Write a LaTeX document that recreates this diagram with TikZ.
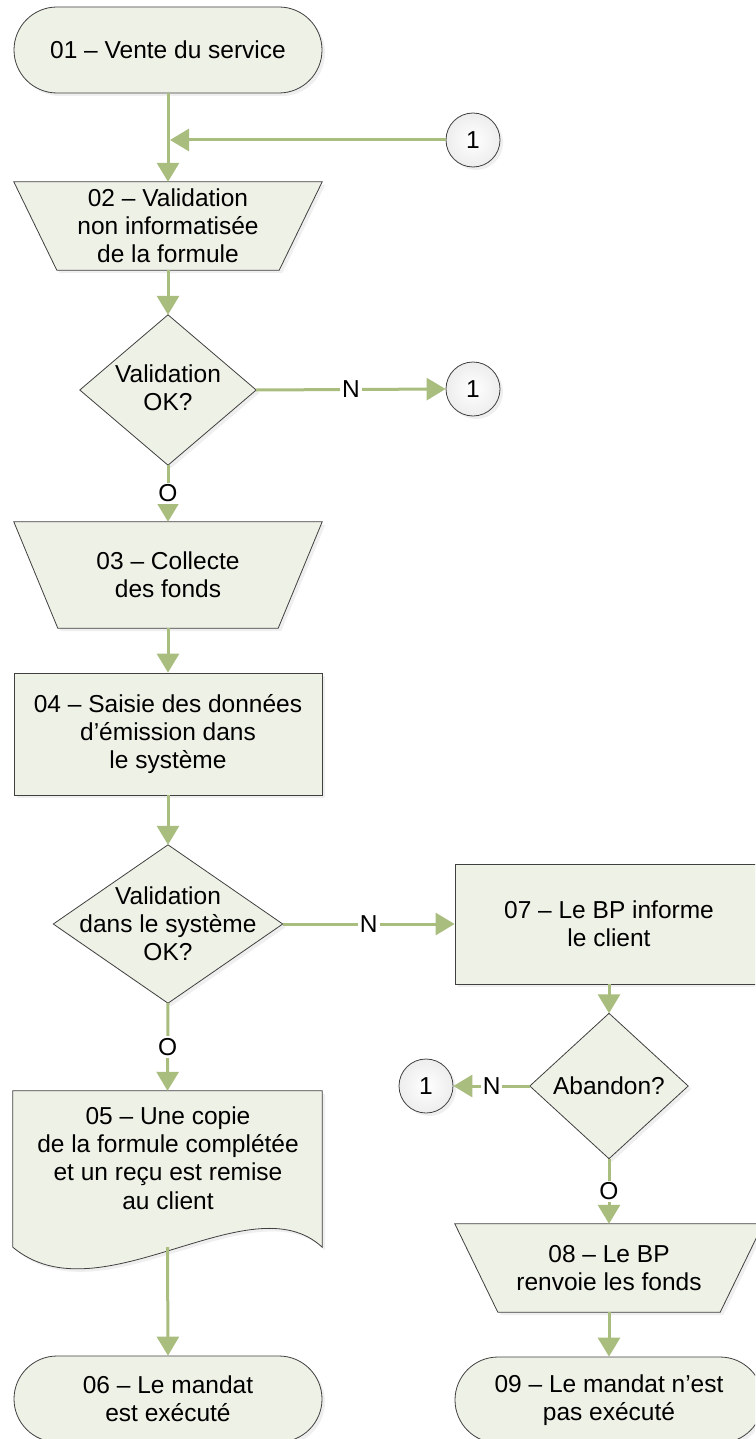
\documentclass[tikz,border=0pt]{standalone}
\usepackage{fontspec}
\setmainfont{Liberation Sans}
\usetikzlibrary{arrows.meta,shadows,backgrounds}

\definecolor{shapefill}{HTML}{EEF1E6}
\definecolor{flow}{HTML}{A9BD7E}
\definecolor{edge}{HTML}{404040}

\tikzset{
  every node/.style={font=\fontsize{24.5}{28.2}\selectfont, align=center, text=black},
  softshadow/.style={drop shadow={shadow xshift=3pt, shadow yshift=-3pt, opacity=0.13}},
  outline/.style={draw=edge, line width=0.8pt, fill=shapefill, softshadow},
  frame/.style={rectangle, inner sep=0pt},
  terminal/.style={rectangle, outline, rounded corners=43pt, minimum width=308pt, minimum height=86pt, inner sep=0pt},
  process/.style={rectangle, outline, minimum width=308pt, inner sep=0pt},
  offpage/.style={circle, draw=edge, line width=0.8pt, inner color=white, outer color=gray!14,
                  minimum size=54pt, inner sep=0pt, softshadow},
  flowarrow/.style={draw=flow, line width=3pt, -{Triangle[length=19pt,width=22pt]}},
  lbl/.style={fill=white, inner sep=2pt},
}

\begin{document}
\begin{tikzpicture}[x=1pt, y=-1pt]
\clip (0,0) rectangle (755,1439);

% --- left column ---
\node[terminal] (n01) at (168,50) {01 -- Vente du service};
\node[offpage] (c1a) at (473,140) {1};
\coordinate (merge) at (170,140);
\node[frame, minimum width=308pt, minimum height=88pt] (n02) at (168,226)
  {02 -- Validation\\non informatisée\\de la formule};
\node[frame, minimum width=176pt, minimum height=150pt] (d1) at (168,390) {};
\node (t1) at (168,388) {Validation\\OK?};
\node[offpage] (c1b) at (473,389) {1};
\node[frame, minimum width=308pt, minimum height=106pt] (n03) at (168,575)
  {03 -- Collecte\\des fonds};
\node[process, minimum height=122pt] (n04) at (168,734)
  {04 -- Saisie des données\\d’émission dans\\le système};
\node[frame, minimum width=229pt, minimum height=158pt] (d2) at (168,924) {};
\node (t2) at (168,924) {Validation\\dans le système\\OK?};
\node[frame, minimum width=309pt, minimum height=156pt] (n05) at (167.5,1169) {};
\node (t5) at (168,1158) {05 -- Une copie\\de la formule complétée\\et un reçu est remise\\au client};
\node[terminal] (n06) at (168,1399) {06 -- Le mandat\\est exécuté};

% --- right column ---
\node[process, minimum height=120pt] (n07) at (609,924) {07 -- Le BP informe\\le client};
\node[frame, minimum width=158pt, minimum height=145pt] (d3) at (609,1086) {};
\node (t3) at (609,1086) {Abandon?};
\node[offpage] (c1c) at (426,1086) {1};
\node[frame, minimum width=308pt, minimum height=88pt] (n08) at (609,1268)
  {08 -- Le BP\\renvoie les fonds};
\node[terminal] (n09) at (609,1400) {09 -- Le mandat n’est\\pas exécuté};

% --- shape outlines behind the texts ---
\begin{scope}[on background layer]
  \filldraw[outline] (n02.north west) -- (n02.north east)
    -- ([xshift=-43pt]n02.south east) -- ([xshift=43pt]n02.south west) -- cycle;
  \filldraw[outline] (n03.north west) -- (n03.north east)
    -- ([xshift=-44pt]n03.south east) -- ([xshift=44pt]n03.south west) -- cycle;
  \filldraw[outline] (n08.north west) -- (n08.north east)
    -- ([xshift=-43pt]n08.south east) -- ([xshift=43pt]n08.south west) -- cycle;
  \filldraw[outline] (d1.north) -- (d1.east) -- (d1.south) -- (d1.west) -- cycle;
  \filldraw[outline] (d2.north) -- (d2.east) -- (d2.south) -- (d2.west) -- cycle;
  \filldraw[outline] (d3.north) -- (d3.east) -- (d3.south) -- (d3.west) -- cycle;
  % document shape with a wavy lower edge
  \filldraw[outline] (n05.north west) -- (n05.north east) -- (n05.south east)
    .. controls (250,1180) and (100,1320) .. (n05.south west) -- cycle;
\end{scope}

% --- connectors ---
\draw[flowarrow] (n01.south) -- (n02.north);
\draw[flowarrow] (c1a.west) -- (merge);
\draw[flowarrow] (n02.south) -- (d1.north);
\draw[flowarrow] (d1.east) -- node[lbl] {N} (c1b.west);
\draw[flowarrow] (d1.south) -- node[lbl] {O} (n03.north);
\draw[flowarrow] (n03.south) -- (n04.north);
\draw[flowarrow] (n04.south) -- (d2.north);
\draw[flowarrow] (d2.east) -- node[lbl] {N} (n07.west);
\draw[flowarrow] (d2.south) -- node[lbl] {O} (n05.north);
\draw[flowarrow] (n05.south) -- (n06.north);
\draw[flowarrow] (n07.south) -- (d3.north);
\draw[flowarrow] (d3.west) -- node[lbl] {N} (c1c.east);
\draw[flowarrow] (d3.south) -- node[lbl] {O} (n08.north);
\draw[flowarrow] (n08.south) -- (n09.north);
\end{tikzpicture}
\end{document}
